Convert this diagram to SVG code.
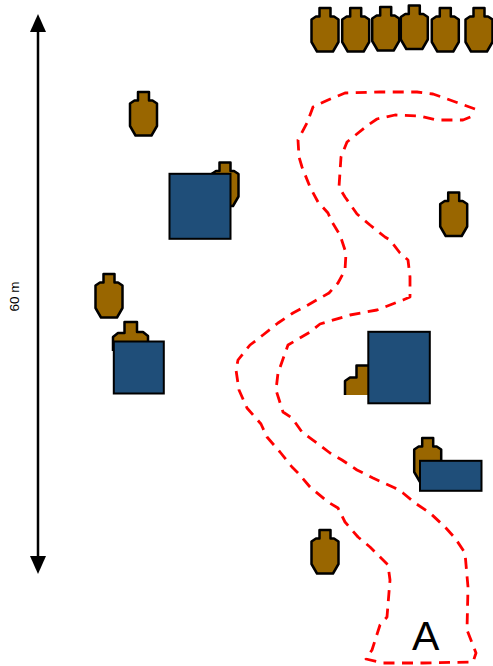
<svg xmlns="http://www.w3.org/2000/svg" width="493" height="666" viewBox="0 0 493 666">
<style>
.t{fill:#996600;stroke:#000;stroke-width:2.500;stroke-linejoin:round}
.b{fill:#1f4e79;stroke:#000;stroke-width:2}
.d{fill:none;stroke:#f00;stroke-width:2.800;stroke-dasharray:11 7.500;stroke-linejoin:round}
.a{fill:none;stroke:#000;stroke-width:2.500}
text{font-family:"Liberation Sans",Arial,sans-serif;fill:#000}
</style>
<defs>
<path id="tg" class="t" d="M-5.500,0H5.500V8.500H9L13.500,11.500V34L8,43.500H-8L-13.500,34V11.500L-9,8.500H-5.500Z"/>
<marker id="ah" viewBox="0 0 18 16" refX="0" refY="8" markerWidth="18" markerHeight="16" markerUnits="userSpaceOnUse" orient="auto-start-reverse"><path d="M0,0L18,8L0,16Z" fill="#000"/></marker>
</defs>
<g id="targets">
<g id="target-1"><use href="#tg" x="325" y="8"/></g>
<g id="target-2"><use href="#tg" x="355.700" y="8"/></g>
<g id="target-3"><use href="#tg" x="385.700" y="7"/></g>
<g id="target-4"><use href="#tg" x="414.300" y="5.500"/></g>
<g id="target-5"><use href="#tg" x="445.300" y="8"/></g>
<g id="target-6"><use href="#tg" x="479" y="8"/></g>
<g id="target-7"><use href="#tg" x="143.500" y="92"/></g>
<g id="target-8"><use href="#tg" x="225" y="162.500"/></g>
<g id="target-9"><use href="#tg" x="453.700" y="192.500"/></g>
<g id="target-10"><use href="#tg" x="109" y="274"/></g>
<g id="target-11"><path class="t" d="M113,351V337L118,333H124.500V322H137V332H143L148,336V345H113"/></g>
<g id="target-12"><path class="t" d="M345,395V381L350,377.500H356.500V365.500H372V395"/></g>
<g id="target-13"><use href="#tg" x="427.700" y="438"/></g>
<g id="target-14"><use href="#tg" x="325" y="530"/></g>
</g>
<g id="barricades">
<rect id="barricade-1" class="b" x="169.500" y="173.800" width="61" height="65"/>
<rect id="barricade-2" class="b" x="113.800" y="341.500" width="50" height="52"/>
<rect id="barricade-3" class="b" x="368.300" y="331.800" width="61.500" height="71.500"/>
<rect id="barricade-4" class="b" x="420" y="460.800" width="61.500" height="30"/>
</g>
<g id="connectors">
<path class="d" d="M475,109L450,100L433,94L417,92L380,92L345,93L328,100L313,107L307,123L298,140L299,157L302,167L310,187L318,202L328,213L332,222L340,235L346,253L345,270L338,283L329,293L308,305L293,313L278,323L263,335L250,345L238,360L236,370L239,390L247,408L261,424L267,437L280,452L292,467L298,473L310,487L328,502L338,508L345,522L358,537L370,547L388,565L390,580L387,617L380,625L372,650L366,659L383,663L423,663L473,662L476,653L467,630L468,587L465,553L455,538L445,527L430,513L415,503L403,493L395,488L373,478L357,470L342,460L330,453L317,443L302,432L292,418L283,412L276,390L278,373L288,345L310,332L320,324L350,315L377,310L403,300L410,297L410,277L408,260L400,253L390,240L385,237L370,225L357,214L345,197L339,187L341,157L347,142L368,125L377,119L395,115L420,116L437,120L463,120L475,115"/>
<line class="a" x1="38" y1="32" x2="38" y2="556" marker-start="url(#ah)" marker-end="url(#ah)"/>
</g>
<text transform="translate(19,296.500) rotate(-90)" font-size="13.500" text-anchor="middle">60 m</text>
<text x="412" y="650" font-size="41">A</text>
</svg>
